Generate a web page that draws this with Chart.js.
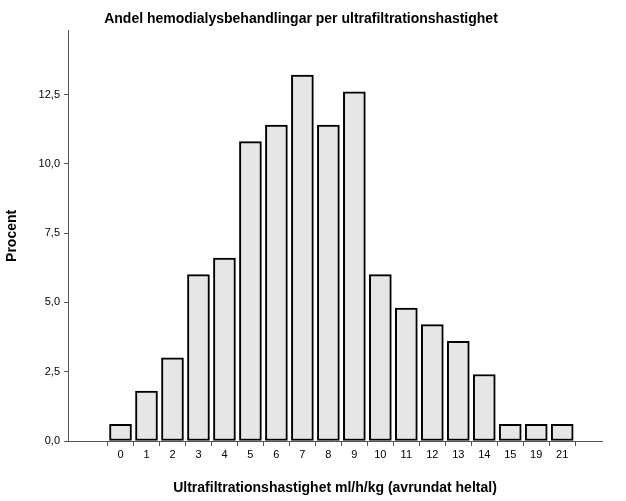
<!DOCTYPE html>
<html>
<head>
<meta charset="utf-8">
<script src="https://cdn.jsdelivr.net/npm/chart.js@4/dist/chart.umd.min.js"></script>
<style>
  html, body { margin: 0; padding: 0; background: #fff; }
  #wrap { width: 626px; height: 501px; }
</style>
</head>
<body>
<div id="wrap"><canvas id="c" width="626" height="501"></canvas></div>
<script>
const categories = ["0","1","2","3","4","5","6","7","8","9","10","11","12","13","14","15","19","21"];
const percent = [0.6, 1.8, 3.0, 6.0, 6.6, 10.8, 11.4, 13.2, 11.4, 12.6, 6.0, 4.8, 4.2, 3.6, 2.4, 0.6, 0.6, 0.6];
const yTicks = [0, 2.5, 5, 7.5, 10, 12.5];

const font = "Arial, 'Liberation Sans', sans-serif";

new Chart(document.getElementById("c"), {
  type: "bar",
  data: {
    datasets: [{
      data: percent.map((v, i) => ({ x: i, y: v })),
      backgroundColor: "#e6e6e6",
      borderColor: "#000",
      borderWidth: 2,
      borderSkipped: false,
      barThickness: 22
    }]
  },
  options: {
    responsive: false,
    animation: false,
    layout: { padding: { left: 0, right: 24, bottom: 0 } },
    plugins: {
      legend: { display: false },
      tooltip: { enabled: false },
      title: {
        display: true,
        text: "Andel hemodialysbehandlingar per ultrafiltrationshastighet",
        color: "#000",
        font: { family: font, size: 14, weight: "bold" },
        padding: { top: 11, bottom: 3 }
      }
    },
    scales: {
      x: {
        type: "linear",
        min: -1.45,
        max: 17.96,
        afterBuildTicks: s => { s.ticks = categories.map((_, i) => ({ value: i })); },
        afterFit: s => { s.height = 60; },
        ticks: {
          callback: v => categories[v],
          color: "#000",
          font: { family: font, size: 11 },
          maxRotation: 0,
          autoSkip: false,
          padding: 2
        },
        grid: { drawOnChartArea: false, color: "#555", tickLength: 5 },
        border: { color: "#555" },
        title: {
          display: true,
          text: "Ultrafiltrationshastighet ml/h/kg (avrundat heltal)",
          color: "#000",
          font: { family: font, size: 14, weight: "bold" },
          padding: { top: 8 }
        }
      },
      y: {
        min: 0,
        max: 14.8,
        afterBuildTicks: s => { s.ticks = yTicks.map(v => ({ value: v })); },
        afterFit: s => { s.width = 68; },
        ticks: {
          callback: v => v.toFixed(1).replace(".", ","),
          color: "#000",
          font: { family: font, size: 11 },
          padding: 4
        },
        grid: { drawOnChartArea: false, color: "#555", tickLength: 4 },
        border: { color: "#555" },
        title: {
          display: true,
          text: "Procent",
          color: "#000",
          font: { family: font, size: 14, weight: "bold" },
          padding: { bottom: 4 }
        }
      }
    }
  }
});
</script>
</body>
</html>
